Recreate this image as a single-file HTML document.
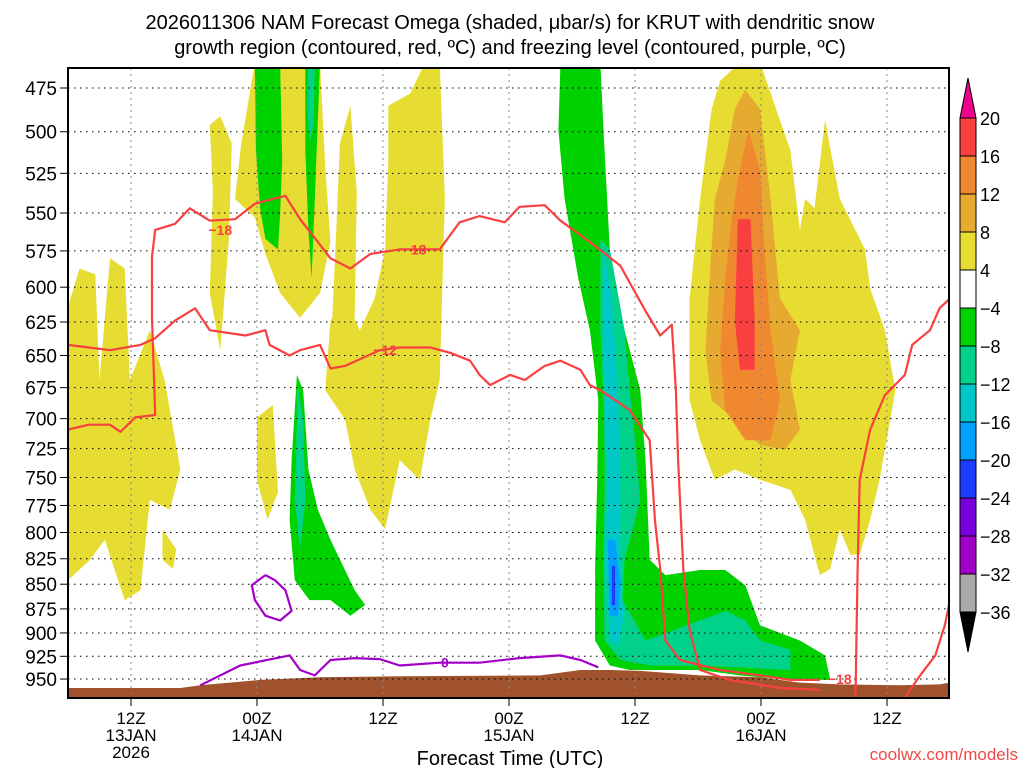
<!DOCTYPE html>
<html><head><meta charset="utf-8">
<style>
body{margin:0;background:#fff;width:1024px;height:768px;overflow:hidden;font-family:"Liberation Sans",sans-serif}
svg text{font-family:"Liberation Sans",sans-serif}
</style></head>
<body>
<svg id="chart" width="1024" height="768" xmlns="http://www.w3.org/2000/svg">
<text x="510" y="29" font-size="20" text-anchor="middle">2026011306 NAM Forecast Omega (shaded, μbar/s) for KRUT with dendritic snow</text>
<text x="510" y="54" font-size="20" text-anchor="middle">growth region (contoured, red, ºC) and freezing level (contoured, purple, ºC)</text>
<defs><clipPath id="pc"><rect x="68" y="68" width="881" height="630"/></clipPath></defs>
<g id="fills" clip-path="url(#pc)"></g>
<g id="grid"></g>
<g id="lines" clip-path="url(#pc)"></g>
<rect x="68" y="68" width="881" height="630" fill="none" stroke="#000" stroke-width="2"/>
<g id="axes"></g>
<g id="cbar"></g>
<text x="510" y="765" font-size="20" text-anchor="middle">Forecast Time (UTC)</text>
<text x="1018" y="760" font-size="17" fill="#f04848" text-anchor="end">coolwx.com/models</text>
</svg>
<script>
// axes: hours since 06Z 13JAN, pressure hPa (log scale)
const pTicks=[475,500,525,550,575,600,625,650,675,700,725,750,775,800,825,850,875,900,925,950];
const tHours=[6,18,30,42,54,66,78];
const tLabels=['12Z','00Z','12Z','00Z','12Z','00Z','12Z'];
const tDates=['13JAN','14JAN','','15JAN','','16JAN',''];
const cbLevels=[20,16,12,8,4,-4,-8,-12,-16,-20,-24,-28,-32,-36];
const cbColors=['#f84040','#f08830','#e6aa30','#e6dc32','#ffffff','#00d200','#00d28c','#00c8c8','#00a0ff','#1e3cff','#7800dc','#a000c8','#aaaaaa'];
const terrain=[[0,971],[0,960],[10.7,960],[12.6,957],[18.3,951],[24,948],[31.6,947],[45,946],[48.8,940],[51.6,940],[54.5,941],[60.2,946],[65.9,948],[69.7,954],[73.5,956],[79.2,957],[83,956],[84,954],[84,971]];
const yellow=[
[[0,614],[1.1,587],[2.6,591],[3,669],[4,580],[5.4,587],[5.9,669],[7.8,631],[9.2,669],[10.7,743],[9.7,779],[7.8,770],[6.9,856],[5.4,866],[3.5,807],[2.1,826],[0,846]],
[[13.5,496],[14.5,491],[15.6,507],[15.3,569],[14.5,646],[13.5,604],[13.8,537]],
[[17.8,461],[24,461],[24.5,522],[25,569],[24,604],[22.1,622],[20.2,604],[18.8,577],[17.8,553],[15.9,541],[16.5,507]],
[[25.9,507],[26.9,485],[27.5,537],[27.3,622],[26.4,660],[25,650],[25.5,569]],
[[30.5,485],[32.6,478],[34,461],[35.4,461],[35.9,541],[35.4,669],[34.5,701],[33.5,752],[31.6,735],[30.2,797],[28.8,779],[27.3,743],[26.4,701],[24.5,677],[25,624],[26.4,608],[27.8,631],[29.2,608],[30.2,574],[30.5,517]],
[[18,699],[19.5,689],[20,763],[19,788],[18,752]],
[[9,797],[10.3,816],[10,835],[9,826]],
[[62.1,471],[64,461],[65.9,461],[68.8,511],[69.7,561],[70.2,541],[71.1,547],[72.1,493],[73.5,541],[75.9,574],[76.4,601],[77.8,631],[78.8,677],[77.3,752],[76.4,788],[75.4,821],[74.5,821],[73.5,797],[72.6,835],[71.6,841],[70.2,788],[68.8,761],[65.9,752],[63.5,743],[61.6,752],[60.2,718],[59.2,685],[59.2,608],[60.2,541],[61.3,487]]];
const orange1=[[[63.5,487],[64.5,476],[65.9,487],[66.9,541],[67.8,608],[69.7,631],[68.8,669],[69.7,709],[68.3,726],[65.9,722],[63.5,701],[61.3,685],[60.7,646],[61.1,594],[61.6,541],[62.6,517]]];
const orange2=[[[63.8,529],[64.8,499],[65.9,523],[66.4,580],[66.9,631],[67.8,685],[66.9,718],[64.5,718],[62.6,693],[62.1,646],[62.6,594],[63.2,554]]];
const redFill=[[[63.8,554],[65,554],[65.4,624],[65.4,661],[64,661],[63.5,624]]];
const green=[
[[17.8,461],[20.2,461],[20.4,517],[20.2,551],[20,574],[18.8,567],[18.3,547],[17.9,511]],
[[22.6,461],[24,461],[23.8,493],[23.5,541],[23.2,594],[22.9,561],[22.6,511]],
[[21.8,665],[22.4,677],[22.9,743],[23.8,779],[25,807],[27.3,856],[28.3,871],[26.9,882],[25,866],[23,866],[21.6,846],[21.1,788],[21.3,735]],
[[46.9,461],[50.7,461],[51,499],[51.6,574],[53,631],[54.5,677],[55,735],[55.4,826],[56.9,841],[60.2,836],[62.6,836],[64.5,851],[65.9,892],[69.7,908],[72.1,924],[72.6,951],[68.8,951],[64,946],[60.2,940],[56.4,940],[53.5,940],[51.6,935],[50.2,908],[50.2,835],[50.4,752],[50.5,685],[49.7,631],[48.6,594],[47.3,541],[46.7,499]]];
const teal=[
[[50.7,567],[51.6,574],[53,631],[53.5,677],[54,718],[54.5,770],[53,826],[52.8,866],[55,908],[60.2,887],[62.6,877],[64.5,887],[65.9,908],[68.8,918],[68.8,940],[60.2,935],[55.4,935],[52.6,929],[51.1,908],[51,826],[51.1,743],[51,685],[50.7,631]],
[[21.8,669],[22.4,701],[22.6,770],[22.1,816],[21.6,770],[21.8,701]],
[[22.9,461],[23.5,461],[23.4,496],[23,507],[22.8,485]]];
const cyan=[[[51,574],[51.8,608],[52.4,685],[52.6,752],[52.6,826],[52.9,887],[52.4,913],[51.6,908],[51.2,826],[51.4,752],[51.1,685],[51,622]]];
const blue1=[[[51.4,807],[52.1,807],[52.6,846],[52.4,882],[51.6,882]]];
const blue2=[[[51.8,832],[52.1,832],[52.1,871],[51.8,871]]];
const redLines=[
[[0,709],[2,705],[4,705],[5,711],[6.4,699],[8.3,697],[8,622],[8,579],[8.3,561],[10.2,557],[11.6,547],[13.5,555],[15.9,554],[17.8,544],[20.7,539],[22.1,554],[25,580],[26.9,587],[28.8,577],[31.6,574],[35.4,574],[37.3,556],[39.2,552],[41.6,556],[43,546],[45.4,545],[46.9,555],[49.7,569],[52.6,585],[55,617],[56.4,635],[57.5,627],[57.9,677],[58.1,735],[58.6,835],[59.2,897],[60.2,940],[63,951],[67.8,960],[71.6,962]],
[[0,642],[2,644],[4,646],[6.9,642],[8.3,637],[10.2,624],[12.1,615],[13.5,631],[16.9,635],[18.8,631],[19.2,642],[21.1,650],[22.1,646],[24,642],[25,660],[26.4,658],[29.7,646],[31.6,644],[34.5,644],[36.4,648],[38.3,654],[39.2,665],[40.2,673],[42.1,665],[43.5,669],[45.4,658],[46.9,654],[48.8,661],[49.7,673],[50.7,677],[52.1,685],[53.5,693],[55.4,718],[55.9,788],[56.4,835],[56.9,908],[58.3,929],[62.1,940],[65.9,946],[68.8,951],[71.6,951]],
[[75,971],[75.2,835],[75.4,752],[76.4,709],[77.8,681],[79.7,665],[80.4,642],[82.1,631],[83,615],[84,608]],
[[79.7,971],[81.1,947],[82.6,924],[83.5,892],[84,866]]];
const purpleLines=[
[[12.6,957],[16.4,935],[21.1,924],[22.1,940],[23.5,946],[25,929],[27.3,927],[29.7,928],[31.6,935],[35.4,932],[39.2,932],[43,927],[46.9,924],[48.8,929],[50.5,937]],
[[18.8,841],[19.7,846],[20.7,856],[21.3,877],[20.2,887],[18.8,882],[17.8,866],[17.5,851],[18.8,841]]];
const redLabels=[['−18',14.5,561],['−18',33,574],['−12',30.2,646],['−18',73.5,950]];

const X=h=>68+h*10.5, Y=p=>88+852.7*Math.log(p/475);
const NS='http://www.w3.org/2000/svg';
function mk(tag,parent,attrs){const e=document.createElementNS(NS,tag);for(const k in attrs)e.setAttribute(k,attrs[k]);parent.appendChild(e);return e;}
const pts=a=>a.map(d=>X(d[0]).toFixed(1)+','+Y(d[1]).toFixed(1)).join(' ');
const fillsG=document.getElementById('fills');
function drawFill(list,color,name){list.forEach(poly=>{const e=mk('polygon',fillsG,{points:pts(poly),fill:color});

});}
drawFill(yellow,'#e6dc32','omega-4-8');
drawFill(orange1,'#e6aa30','omega-8-12');
drawFill(orange2,'#f08830','omega-12-16');
drawFill(redFill,'#f84040','omega-16-20');
drawFill(green,'#00d200','omega-neg4-8');
drawFill(teal,'#00d28c','omega-neg8-12');
drawFill(cyan,'#00c8c8','omega-neg12-16');
drawFill(blue1,'#00a0ff','omega-neg16-20');
drawFill(blue2,'#1e3cff','omega-neg20-24');
const ter=mk('polygon',fillsG,{points:pts(terrain),fill:'#a0522d'});



const gridG=document.getElementById('grid'), axesG=document.getElementById('axes');
pTicks.forEach(p=>{
 const gl=mk('line',gridG,{x1:68,x2:949,y1:Y(p),y2:Y(p),stroke:'#000','stroke-width':1,'stroke-dasharray':'1.5,4.5'});
 
 
 const tk=mk('line',axesG,{x1:60,x2:68,y1:Y(p),y2:Y(p),stroke:'#000'});
 
 
 const t=mk('text',axesG,{x:57,y:Y(p)+7,'font-size':19,'text-anchor':'end'});t.textContent=p;
 
 
});
tHours.forEach((h,i)=>{
 const gl=mk('line',gridG,{x1:X(h),x2:X(h),y1:68,y2:698,stroke:'#888','stroke-width':1,'stroke-dasharray':'2,4'});
 
 
 const tk=mk('line',axesG,{x1:X(h),x2:X(h),y1:698,y2:706,stroke:'#000'});
 
 
 const t=mk('text',axesG,{x:X(h),y:724,'font-size':17,'text-anchor':'middle'});t.textContent=tLabels[i];
 
 
 if(tDates[i]){const d=mk('text',axesG,{x:X(h),y:741,'font-size':17,'text-anchor':'middle'});d.textContent=tDates[i];
 
 }
});
const yr=mk('text',axesG,{x:X(6),y:758,'font-size':17,'text-anchor':'middle'});yr.textContent='2026';



const linesG=document.getElementById('lines');
redLines.forEach(l=>{const e=mk('polyline',linesG,{points:pts(l),fill:'none',stroke:'#f84040','stroke-width':2.2,'stroke-linejoin':'round'});

});
purpleLines.forEach(l=>{const e=mk('polyline',linesG,{points:pts(l),fill:'none',stroke:'#a000c8','stroke-width':2.2,'stroke-linejoin':'round'});

});
redLabels.forEach(r=>{const t=mk('text',linesG,{x:X(r[1]),y:Y(r[2])+5,'font-size':14,'font-weight':'bold',fill:'#f84040','text-anchor':'middle'});t.textContent=r[0];

});
const z=mk('text',linesG,{x:X(35.9),y:Y(932)+5,'font-size':14,'font-weight':'bold',fill:'#a000c8','text-anchor':'middle'});z.textContent='0';



const cb=document.getElementById('cbar');
const cbX=960,cbW=16,cbTop=118,cbStep=38;
const tri1=mk('polygon',cb,{points:`${cbX},${cbTop} ${cbX+cbW},${cbTop} ${cbX+cbW/2},${cbTop-40}`,fill:'#f0008c',stroke:'#000'});


cbColors.forEach((c,i)=>{const r=mk('rect',cb,{x:cbX,y:cbTop+i*cbStep,width:cbW,height:cbStep,fill:c,stroke:'#000','stroke-width':1});

});
const cbBot=cbTop+cbColors.length*cbStep;
const tri2=mk('polygon',cb,{points:`${cbX},${cbBot} ${cbX+cbW},${cbBot} ${cbX+cbW/2},${cbBot+40}`,fill:'#000',stroke:'#000'});


cbLevels.forEach((v,i)=>{const t=mk('text',cb,{x:980,y:cbTop+i*cbStep+7,'font-size':18});t.textContent=v<0?'−'+(-v):v;

});
</script>
</body></html>
